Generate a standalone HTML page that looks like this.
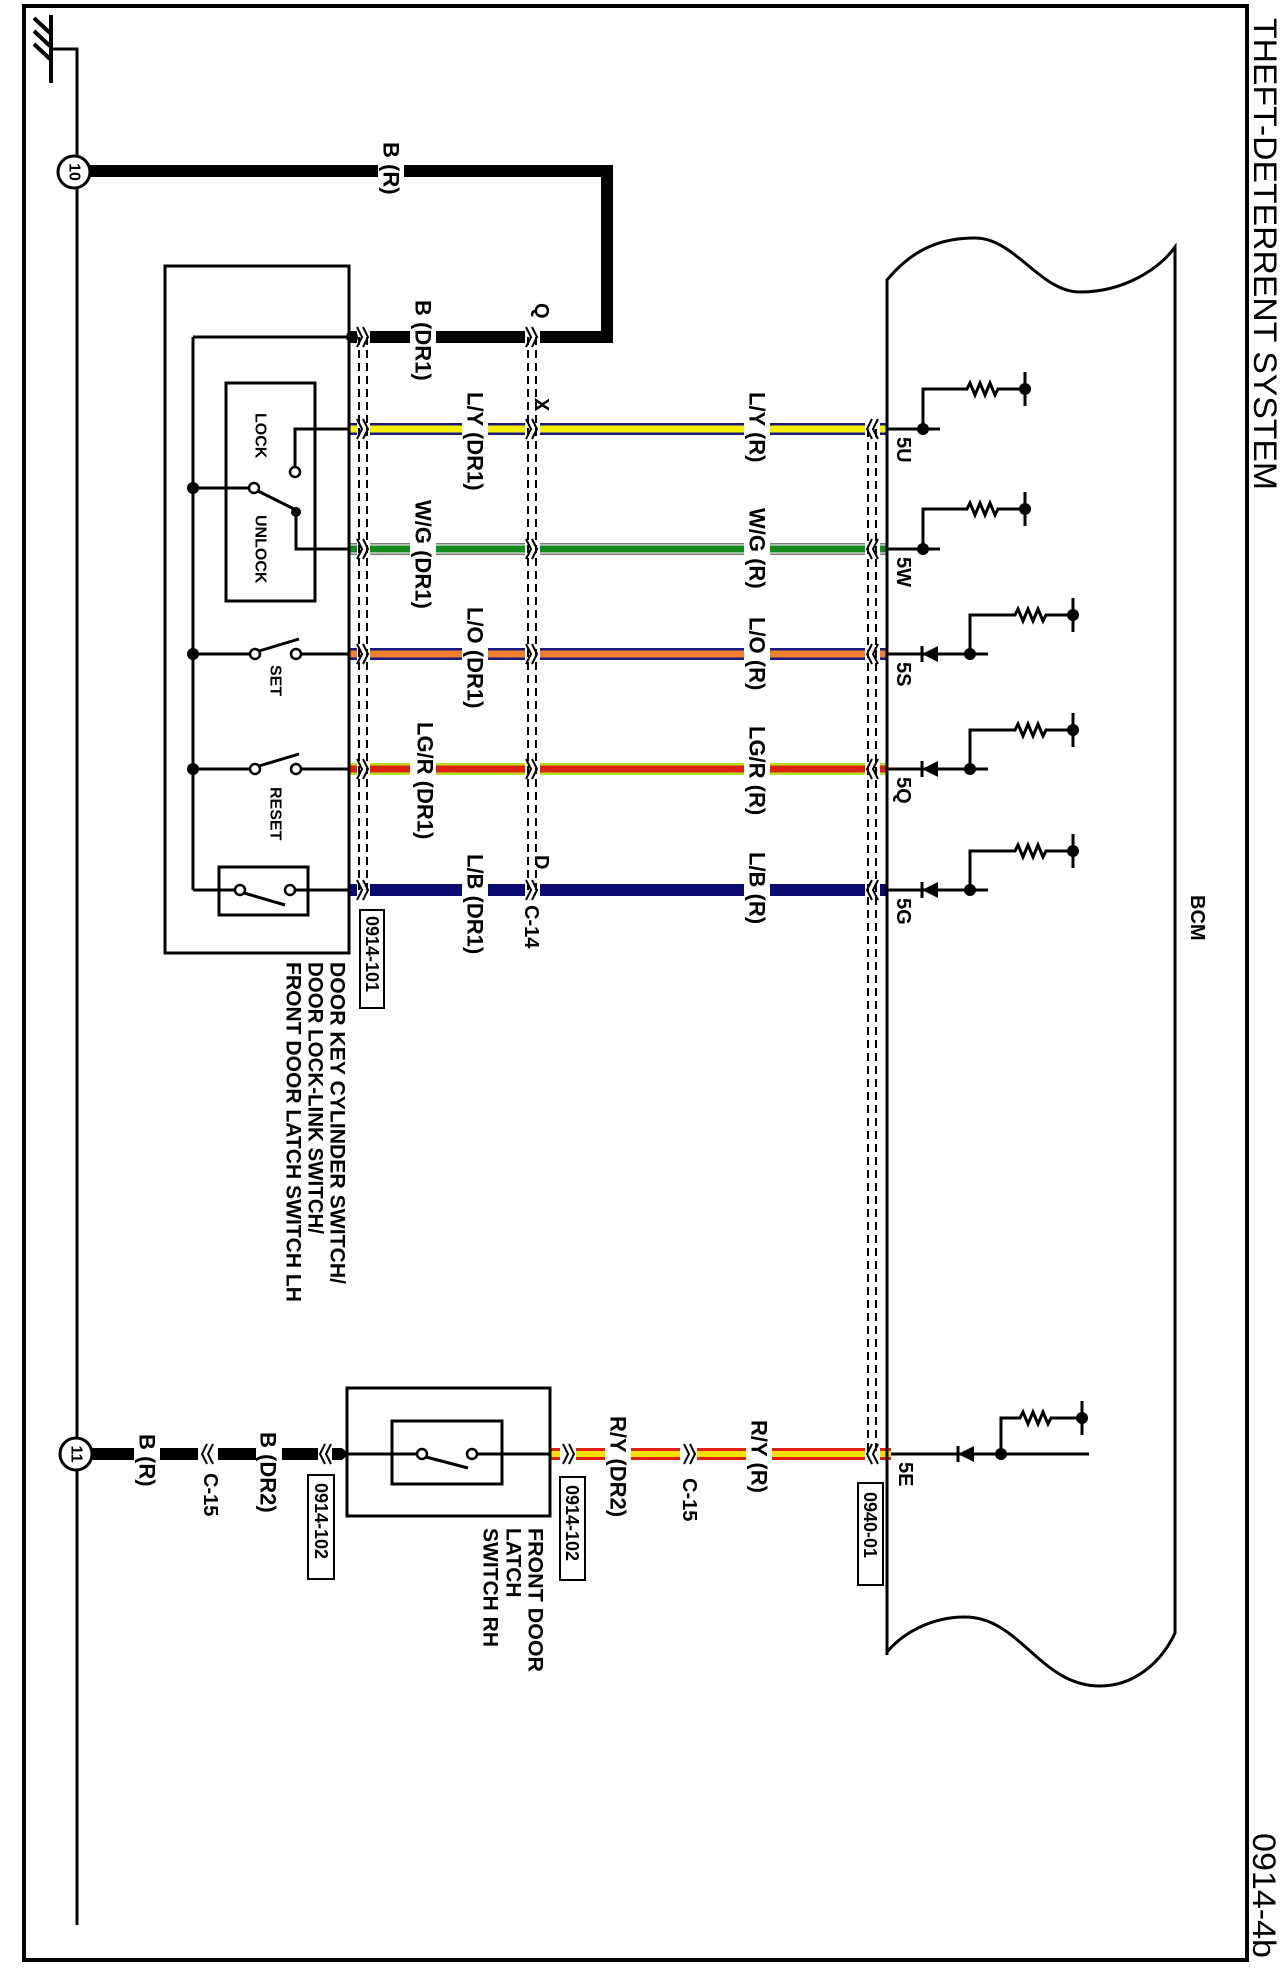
<!DOCTYPE html>
<html><head><meta charset="utf-8"><style>
html,body{margin:0;padding:0;background:#fff;}
svg{display:block;}
text{font-family:"Liberation Sans",Arial,sans-serif;fill:#000;}
</style></head><body>
<svg width="1284" height="1980" viewBox="0 0 1284 1980" xmlns="http://www.w3.org/2000/svg">
<rect x="0" y="0" width="1284" height="1980" fill="#fff"/>
<rect x="24" y="6" width="1223" height="1954" fill="none" stroke="#000" stroke-width="4"/>
<text transform="translate(1265,18) rotate(90)" dominant-baseline="central" font-size="32" textLength="472" lengthAdjust="spacingAndGlyphs">THEFT-DETERRENT SYSTEM</text>
<text transform="translate(1264,1833) rotate(90)" dominant-baseline="central" font-size="32" textLength="125" lengthAdjust="spacingAndGlyphs">0914-4b</text>

<g stroke="#000" fill="none">
<line x1="51" y1="15" x2="51" y2="83" stroke-width="4"/>
<line x1="34" y1="18" x2="50" y2="33" stroke-width="4"/>
<line x1="34" y1="31" x2="50" y2="46" stroke-width="4"/>
<line x1="34" y1="44" x2="50" y2="59" stroke-width="4"/>
<path d="M51 49H77V1925" stroke-width="3"/>
</g>

<path d="M540 337H607V171H404 M378 171H90" stroke="#000" stroke-width="12" fill="none"/>
<path d="M352 337H357 M370 337H410 M436 337H525" stroke="#000" stroke-width="12" fill="none"/>
<circle cx="74" cy="172" r="16" fill="#fff" stroke="#000" stroke-width="3"/>
<text transform="translate(74,172) rotate(90)" dominant-baseline="central" text-anchor="middle" font-size="16" font-weight="bold">10</text>
<text transform="translate(391,142) rotate(90)" dominant-baseline="central" font-size="22" font-weight="bold">B (R)</text>

<g fill="none">
<path d="M349 429H357 M370 429H462 M488 429H525 M540 429H744 M770 429H865 M880 429H887" stroke="#1a1a80" stroke-width="12"/>
<path d="M349 429H357 M370 429H462 M488 429H525 M540 429H744 M770 429H865 M880 429H887" stroke="#f5f000" stroke-width="7"/>
<path d="M349 549H357 M370 549H410 M436 549H525 M540 549H744 M770 549H865 M880 549H887" stroke="#777" stroke-width="12"/>
<path d="M349 549H357 M370 549H410 M436 549H525 M540 549H744 M770 549H865 M880 549H887" stroke="#fff" stroke-width="9"/>
<path d="M349 549H357 M370 549H410 M436 549H525 M540 549H744 M770 549H865 M880 549H887" stroke="#138a1c" stroke-width="7"/>
<path d="M349 654H357 M370 654H462 M488 654H525 M540 654H744 M770 654H865 M880 654H887" stroke="#1a1a80" stroke-width="12"/>
<path d="M349 654H357 M370 654H462 M488 654H525 M540 654H744 M770 654H865 M880 654H887" stroke="#f08030" stroke-width="7"/>
<path d="M349 769H357 M370 769H410 M436 769H525 M540 769H744 M770 769H865 M880 769H887" stroke="#b8e020" stroke-width="12"/>
<path d="M349 769H357 M370 769H410 M436 769H525 M540 769H744 M770 769H865 M880 769H887" stroke="#e02010" stroke-width="7"/>
<path d="M349 890H357 M370 890H462 M488 890H525 M540 890H744 M770 890H865 M880 890H887" stroke="#0a0a70" stroke-width="12"/>
<path d="M92 1454H134 M160 1454H198 M218 1454H256 M282 1454H318 M332 1454H342" stroke="#000" stroke-width="12"/>
<path d="M550 1454H560 M576 1454H605 M631 1454H680 M697 1454H746 M772 1454H865 M880 1454H891" stroke="#e02010" stroke-width="12"/>
<path d="M550 1454H560 M576 1454H605 M631 1454H680 M697 1454H746 M772 1454H865 M880 1454H891" stroke="#f5e000" stroke-width="6"/>
</g>

<g stroke="#000" stroke-width="2" stroke-dasharray="8 5" fill="none">
<path d="M359 337V890 M367 337V890"/>
<path d="M528 337V890 M536 337V890"/>
<path d="M868 429V1454 M876 429V1454"/>
</g>

<g stroke="#000" stroke-width="2" fill="none">
<path d="M357 327l5 10l-5 10 M363 327l5 10l-5 10"/>
<path d="M357 419l5 10l-5 10 M363 419l5 10l-5 10"/>
<path d="M357 539l5 10l-5 10 M363 539l5 10l-5 10"/>
<path d="M357 644l5 10l-5 10 M363 644l5 10l-5 10"/>
<path d="M357 759l5 10l-5 10 M363 759l5 10l-5 10"/>
<path d="M357 880l5 10l-5 10 M363 880l5 10l-5 10"/>
<path d="M526 327l5 10l-5 10 M532 327l5 10l-5 10"/>
<path d="M526 419l5 10l-5 10 M532 419l5 10l-5 10"/>
<path d="M526 539l5 10l-5 10 M532 539l5 10l-5 10"/>
<path d="M526 644l5 10l-5 10 M532 644l5 10l-5 10"/>
<path d="M526 759l5 10l-5 10 M532 759l5 10l-5 10"/>
<path d="M526 880l5 10l-5 10 M532 880l5 10l-5 10"/>
<path d="M872 419l-5 10l5 10 M878 419l-5 10l5 10"/>
<path d="M872 539l-5 10l5 10 M878 539l-5 10l5 10"/>
<path d="M872 644l-5 10l5 10 M878 644l-5 10l5 10"/>
<path d="M872 759l-5 10l5 10 M878 759l-5 10l5 10"/>
<path d="M872 880l-5 10l5 10 M878 880l-5 10l5 10"/>
<path d="M872 1444l-5 10l5 10 M878 1444l-5 10l5 10"/>
<path d="M207 1444l-5 10l5 10 M213 1444l-5 10l5 10"/>
<path d="M325 1444l-5 10l5 10 M331 1444l-5 10l5 10"/>
<path d="M563 1444l5 10l-5 10 M569 1444l5 10l-5 10"/>
<path d="M684 1444l5 10l-5 10 M690 1444l5 10l-5 10"/>
</g>

<g stroke="#000" stroke-width="3" fill="none">
<rect x="165" y="266" width="184" height="687"/>
<path d="M193 337H352 M193 337V890"/>
<rect x="226" y="383" width="89" height="218"/>
<path d="M349 429H295V467"/>
<path d="M193 488H249"/>
<line x1="258" y1="491" x2="296" y2="510"/>
<path d="M296 512V549H349"/>
<path d="M193 654H250 M301 654H349"/>
<line x1="259" y1="651" x2="299" y2="639"/>
<path d="M193 769H250 M301 769H349"/>
<line x1="259" y1="766" x2="299" y2="754"/>
<path d="M193 890H235 M295 890H349"/>
<rect x="219" y="867" width="89" height="48"/>
<line x1="244" y1="893" x2="285" y2="905"/>
</g>
<g fill="#000">
<circle cx="352" cy="337" r="6"/>
<circle cx="193" cy="488" r="6"/>
<circle cx="193" cy="654" r="6"/>
<circle cx="193" cy="769" r="6"/>
<circle cx="296" cy="512" r="5"/>
</g>
<g fill="#fff" stroke="#000" stroke-width="2.5">
<circle cx="295" cy="472" r="5"/>
<circle cx="254" cy="488" r="5"/>
<circle cx="255" cy="654" r="5"/><circle cx="296" cy="654" r="5"/>
<circle cx="255" cy="769" r="5"/><circle cx="296" cy="769" r="5"/>
<circle cx="240" cy="890" r="5"/><circle cx="290" cy="890" r="5"/>
</g>
<g font-size="16" font-weight="bold">
<text transform="translate(260,413) rotate(90)" dominant-baseline="central">LOCK</text>
<text transform="translate(260,515) rotate(90)" dominant-baseline="central">UNLOCK</text>
<text transform="translate(275,665) rotate(90)" dominant-baseline="central">SET</text>
<text transform="translate(275,787) rotate(90)" dominant-baseline="central">RESET</text>
</g>
<g font-size="21" font-weight="bold">
<text transform="translate(337,962) rotate(90)" dominant-baseline="central" textLength="322" lengthAdjust="spacingAndGlyphs">DOOR KEY CYLINDER SWITCH/</text>
<text transform="translate(315,962) rotate(90)" dominant-baseline="central" textLength="272" lengthAdjust="spacingAndGlyphs">DOOR LOCK-LINK SWITCH/</text>
<text transform="translate(293,962) rotate(90)" dominant-baseline="central" textLength="340" lengthAdjust="spacingAndGlyphs">FRONT DOOR LATCH SWITCH LH</text>
<text transform="translate(535,1528) rotate(90)" dominant-baseline="central" textLength="144" lengthAdjust="spacingAndGlyphs">FRONT DOOR</text>
<text transform="translate(513,1528) rotate(90)" dominant-baseline="central">LATCH</text>
<text transform="translate(490,1528) rotate(90)" dominant-baseline="central">SWITCH RH</text>
</g>

<g font-size="22" font-weight="bold">
<text transform="translate(423,300) rotate(90)" dominant-baseline="central">B (DR1)</text>
<text transform="translate(475,392) rotate(90)" dominant-baseline="central">L/Y (DR1)</text>
<text transform="translate(423,500) rotate(90)" dominant-baseline="central">W/G (DR1)</text>
<text transform="translate(475,607) rotate(90)" dominant-baseline="central">L/O (DR1)</text>
<text transform="translate(425,722) rotate(90)" dominant-baseline="central">LG/R (DR1)</text>
<text transform="translate(475,854) rotate(90)" dominant-baseline="central">L/B (DR1)</text>
<text transform="translate(757,392) rotate(90)" dominant-baseline="central">L/Y (R)</text>
<text transform="translate(757,508) rotate(90)" dominant-baseline="central">W/G (R)</text>
<text transform="translate(757,617) rotate(90)" dominant-baseline="central">L/O (R)</text>
<text transform="translate(757,726) rotate(90)" dominant-baseline="central">LG/R (R)</text>
<text transform="translate(757,852) rotate(90)" dominant-baseline="central">L/B (R)</text>
<text transform="translate(147,1434) rotate(90)" dominant-baseline="central">B (R)</text>
<text transform="translate(268,1432) rotate(90)" dominant-baseline="central">B (DR2)</text>
<text transform="translate(618,1416) rotate(90)" dominant-baseline="central">R/Y (DR2)</text>
<text transform="translate(759,1420) rotate(90)" dominant-baseline="central">R/Y (R)</text>
</g>
<g font-size="20" font-weight="bold">
<text transform="translate(541,303) rotate(90)" dominant-baseline="central">Q</text>
<text transform="translate(541,398) rotate(90)" dominant-baseline="central">X</text>
<text transform="translate(541,855) rotate(90)" dominant-baseline="central">D</text>
<text transform="translate(531,905) rotate(90)" dominant-baseline="central">C-14</text>
<text transform="translate(210,1473) rotate(90)" dominant-baseline="central">C-15</text>
<text transform="translate(689,1478) rotate(90)" dominant-baseline="central">C-15</text>
<text transform="translate(903,437) rotate(90)" dominant-baseline="central">5U</text>
<text transform="translate(903,557) rotate(90)" dominant-baseline="central">5W</text>
<text transform="translate(903,662) rotate(90)" dominant-baseline="central">5S</text>
<text transform="translate(903,777) rotate(90)" dominant-baseline="central">5Q</text>
<text transform="translate(903,898) rotate(90)" dominant-baseline="central">5G</text>
<text transform="translate(905,1462) rotate(90)" dominant-baseline="central">5E</text>
<text transform="translate(1197,895) rotate(90)" dominant-baseline="central">BCM</text>
</g>

<g fill="#fff" stroke="#000" stroke-width="2">
<rect x="360" y="910" width="24" height="98"/>
<rect x="308" y="1475" width="26" height="104"/>
<rect x="560" y="1477" width="25" height="103"/>
<rect x="858" y="1483" width="25" height="102"/>
</g>
<g font-size="18" font-weight="bold">
<text transform="translate(372,916) rotate(90)" dominant-baseline="central">0914-101</text>
<text transform="translate(321,1483) rotate(90)" dominant-baseline="central">0914-102</text>
<text transform="translate(572,1485) rotate(90)" dominant-baseline="central">0914-102</text>
<text transform="translate(870,1492) rotate(90)" dominant-baseline="central">0940-01</text>
</g>

<g stroke="#000" stroke-width="3" fill="none">
<rect x="347" y="1388" width="203" height="128"/>
<rect x="392" y="1421" width="110" height="63"/>
<path d="M340 1454H417 M477 1454H550"/>
<line x1="426" y1="1457" x2="468" y2="1468"/>
</g>
<circle cx="340" cy="1454" r="6" fill="#000"/>
<circle cx="422" cy="1454" r="5" fill="#fff" stroke="#000" stroke-width="2.5"/>
<circle cx="472" cy="1454" r="5" fill="#fff" stroke="#000" stroke-width="2.5"/>
<circle cx="76" cy="1454" r="16" fill="#fff" stroke="#000" stroke-width="3"/>
<text transform="translate(76,1454) rotate(90)" dominant-baseline="central" text-anchor="middle" font-size="16" font-weight="bold">11</text>

<path d="M887 1655V280C915 246 945 238 975 238C1015 238 1040 292 1080 292C1125 292 1160 268 1175 247V1633C1160 1665 1132 1686 1100 1686C1040 1686 1020 1617 965 1617C930 1617 902 1634 887 1652" fill="none" stroke="#000" stroke-width="3"/>

<g stroke="#000" stroke-width="3" fill="none">
<path d="M887 429H940 M923 429V389H967l3 -6l5 12l5 -12l5 12l5 -12l5 12l3 -6H1025 M1025 372V406"/>
<path d="M887 549H940 M923 549V509H967l3 -6l5 12l5 -12l5 12l5 -12l5 12l3 -6H1025 M1025 492V526"/>
<path d="M887 654H988 M970 654V615H1015l3 -6l5 12l5 -12l5 12l5 -12l5 12l3 -6H1073 M1073 598V632 M922 646V662"/>
<path d="M887 769H988 M970 769V730H1015l3 -6l5 12l5 -12l5 12l5 -12l5 12l3 -6H1073 M1073 713V747 M922 761V777"/>
<path d="M887 890H988 M970 890V851H1015l3 -6l5 12l5 -12l5 12l5 -12l5 12l3 -6H1073 M1073 834V868 M922 882V898"/>
<path d="M891 1454H1089 M1001 1454V1418H1020l3 -6l5 12l5 -12l5 12l5 -12l5 12l3 -6H1082 M1082 1401V1435 M958 1446V1462"/>
</g>
<g fill="#000">
<circle cx="923" cy="429" r="6"/><circle cx="1025" cy="389" r="6"/>
<circle cx="923" cy="549" r="6"/><circle cx="1025" cy="509" r="6"/>
<circle cx="970" cy="654" r="6"/><circle cx="1073" cy="615" r="6"/>
<circle cx="970" cy="769" r="6"/><circle cx="1073" cy="730" r="6"/>
<circle cx="970" cy="890" r="6"/><circle cx="1073" cy="851" r="6"/>
<circle cx="1001" cy="1454" r="6"/><circle cx="1082" cy="1418" r="6"/>
<path d="M922 654L938 646V662Z"/>
<path d="M922 769L938 761V777Z"/>
<path d="M922 890L938 882V898Z"/>
<path d="M958 1454L974 1446V1462Z"/>
</g>
</svg>
</body></html>
